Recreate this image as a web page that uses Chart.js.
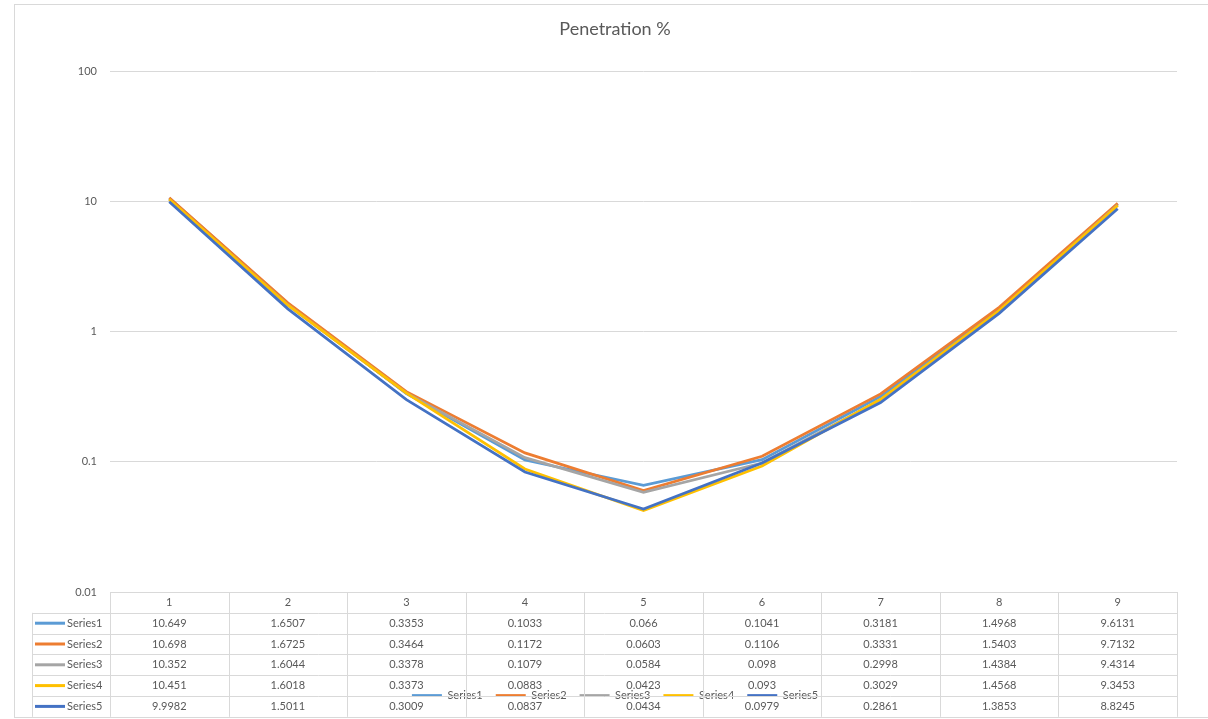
<!DOCTYPE html>
<html>
<head>
<meta charset="utf-8">
<script src="https://cdn.jsdelivr.net/npm/chart.js@4.4.0/dist/chart.umd.min.js"></script>
<style>
  html, body { margin: 0; padding: 0; background: #fff; }
  #wrap { width: 1208px; height: 719px; }
</style>
</head>
<body>
<div id="wrap"><canvas id="penetration"></canvas></div>
<script>
var categories = ["1", "2", "3", "4", "5", "6", "7", "8", "9"];
var series1 = [10.649, 1.6507, 0.3353, 0.1033, 0.066, 0.1041, 0.3181, 1.4968, 9.6131];
var series2 = [10.698, 1.6725, 0.3464, 0.1172, 0.0603, 0.1106, 0.3331, 1.5403, 9.7132];
var series3 = [10.352, 1.6044, 0.3378, 0.1079, 0.0584, 0.098, 0.2998, 1.4384, 9.4314];
var series4 = [10.451, 1.6018, 0.3373, 0.0883, 0.0423, 0.093, 0.3029, 1.4568, 9.3453];
var series5 = [9.9982, 1.5011, 0.3009, 0.0837, 0.0434, 0.0979, 0.2861, 1.3853, 8.8245];
var seriesNames = ["Series1", "Series2", "Series3", "Series4", "Series5"];
var seriesColors = ["#5B9BD5", "#ED7D31", "#A5A5A5", "#FFC000", "#4472C4"];
var yTicks = [0.01, 0.1, 1, 10, 100];

var allSeries = [series1, series2, series3, series4, series5];
var FONT = "Lato, 'Open Sans', sans-serif";
var TEXT = "#595959";
var LINE = "#d9d9d9";

// Excel-style data table under the plot, plus the outer chart border
var dataTable = {
  id: "dataTable",
  afterDraw: function (chart) {
    var c = chart.ctx;
    var x = chart.scales.x;
    var area = chart.chartArea;
    var colW = x.getPixelForValue(1) - x.getPixelForValue(0);
    var rowH = 20.8;
    var top = area.bottom;
    var keyLeft = 32;
    var rows = allSeries.length + 1;

    c.save();
    c.strokeStyle = LINE;
    c.lineWidth = 1;
    c.strokeRect(14.5, 4.5, 1400, 713);

    for (var r = 0; r <= rows; r++) {
      var y = Math.round(top + r * rowH) + 0.5;
      c.beginPath();
      c.moveTo(r === 0 ? area.left : keyLeft, y);
      c.lineTo(area.right, y);
      c.stroke();
    }
    for (var i = 0; i <= categories.length; i++) {
      var vx = Math.round(area.left + i * colW) + 0.5;
      c.beginPath();
      c.moveTo(vx, top);
      c.lineTo(vx, top + rows * rowH);
      c.stroke();
    }
    c.beginPath();
    c.moveTo(keyLeft + 0.5, top + rowH);
    c.lineTo(keyLeft + 0.5, top + rows * rowH);
    c.stroke();

    c.font = "11px " + FONT;
    c.fillStyle = TEXT;
    c.textAlign = "center";
    c.textBaseline = "middle";
    categories.forEach(function (cat, j) {
      c.fillText(cat, x.getPixelForValue(j), top + rowH / 2);
    });
    allSeries.forEach(function (vals, s) {
      var cy = top + (s + 1.5) * rowH;
      vals.forEach(function (v, j) {
        c.fillText(String(v), x.getPixelForValue(j), cy);
      });
      // legend key in the row header
      c.strokeStyle = seriesColors[s];
      c.lineWidth = 3;
      c.beginPath();
      c.moveTo(35, cy);
      c.lineTo(65, cy);
      c.stroke();
      c.textAlign = "left";
      c.fillText(seriesNames[s], 67, cy);
      c.textAlign = "center";
    });
    c.restore();
  }
};

var ctx = document.getElementById("penetration");

new Chart(ctx, {
  type: "line",
  data: {
    labels: categories,
    datasets: allSeries.map(function (vals, s) {
      return {
        label: seriesNames[s],
        data: vals,
        borderColor: seriesColors[s],
        backgroundColor: seriesColors[s],
        borderWidth: 2.75,
        pointRadius: 0,
        tension: 0,
        order: allSeries.length - s // later series on top, like Excel
      };
    })
  },
  options: {
    responsive: true,
    maintainAspectRatio: false,
    animation: false,
    layout: { padding: { left: 53, right: 31, top: 0, bottom: 8 } },
    plugins: {
      title: {
        display: true,
        text: "Penetration %",
        color: TEXT,
        font: { family: FONT, size: 18, weight: "normal" },
        padding: { top: 18, bottom: 32 }
      },
      legend: {
        position: "bottom",
        labels: {
          usePointStyle: true,
          pointStyle: "line",
          pointStyleWidth: 30,
          padding: 13,
          color: TEXT,
          font: { family: FONT, size: 11 },
          sort: function (a, b) { return a.datasetIndex - b.datasetIndex; }
        }
      },
      tooltip: { enabled: false }
    },
    scales: {
      x: {
        offset: true,
        grid: { display: false },
        border: { display: false },
        ticks: { display: false },
        afterFit: function (s) { s.height = 85; }
      },
      y: {
        type: "logarithmic",
        min: 0.01,
        max: 100,
        afterBuildTicks: function (s) {
          s.ticks = yTicks.map(function (v) { return { value: v }; });
        },
        afterFit: function (s) { s.width = 57; },
        grid: { color: LINE, drawTicks: false },
        border: { display: false },
        ticks: {
          padding: 13,
          color: TEXT,
          font: { family: FONT, size: 11 },
          callback: function (v) { return String(v); }
        }
      }
    }
  },
  plugins: [dataTable]
});
</script>
</body>
</html>
